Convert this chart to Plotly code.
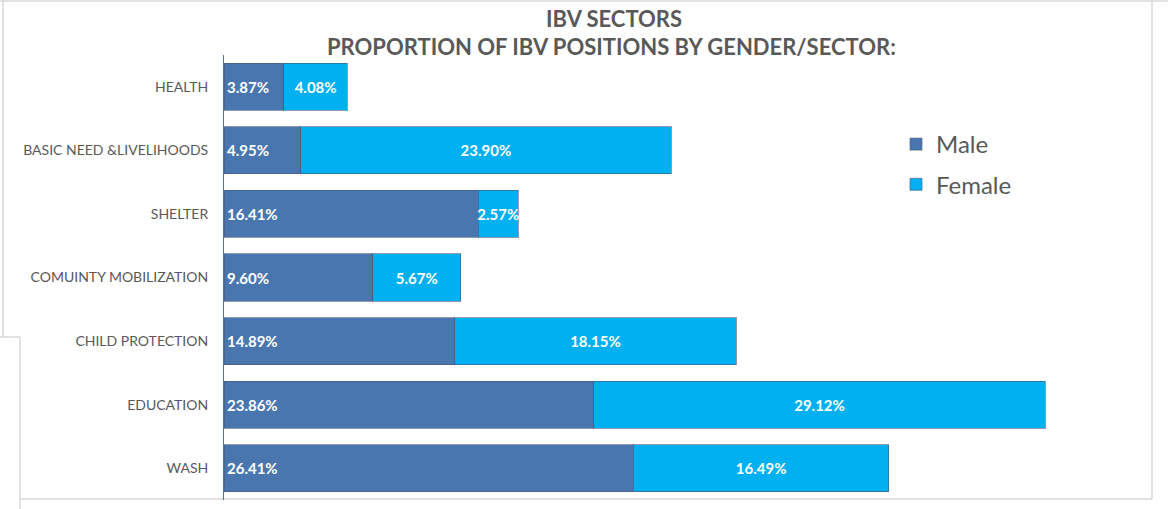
import plotly.graph_objects as go

categories = ["HEALTH", "BASIC NEED &LIVELIHOODS", "SHELTER", "COMUINTY MOBILIZATION",
              "CHILD PROTECTION", "EDUCATION", "WASH"]
male = [3.87, 4.95, 16.41, 9.60, 14.89, 23.86, 26.41]
female = [4.08, 23.90, 2.57, 5.67, 18.15, 29.12, 16.49]

title_line1 = "IBV SECTORS"
title_line2 = "PROPORTION OF IBV POSITIONS BY GENDER/SECTOR:"

W, H = 1168, 509
ML, MR, MT, MB = 224, 14, 55, 9
PW, PH = W - ML - MR, H - MT - MB

def px(x):
    return (x - ML) / PW

def py(y):
    return 1 - (y - MT) / PH

FONT = "Lato"
GREY = "#595959"
MALE_C = "#4A76B0"
FEMALE_C = "#00B0F0"

fig = go.Figure()
fig.add_trace(go.Bar(
    y=categories, x=male, orientation="h", name="Male",
    marker=dict(color=MALE_C, line=dict(color="rgba(70,90,120,0.6)", width=1)),
    texttemplate="%{x:.2f}%", textposition="inside", insidetextanchor="start",
    textangle=0, constraintext="none",
    textfont=dict(family=FONT, size=15, color="white", weight="bold"),
    legendgroup="m", width=0.74,
))
fig.add_trace(go.Bar(
    y=categories, x=female, orientation="h", name="Female",
    marker=dict(color=FEMALE_C, line=dict(color="rgba(70,90,120,0.6)", width=1)),
    texttemplate="%{x:.2f}%", textposition="inside", insidetextanchor="middle",
    textangle=0, constraintext="none",
    textfont=dict(family=FONT, size=15, color="white", weight="bold"),
    legendgroup="f", width=0.74,
))

fig.update_layout(
    width=W, height=H,
    margin=dict(l=ML, r=MR, t=MT, b=MB, autoexpand=False),
    barmode="stack",
    plot_bgcolor="white", paper_bgcolor="white",
    font=dict(family=FONT, color=GREY),
    xaxis=dict(range=[0, 60], showgrid=False, zeroline=False, showticklabels=False,
               showline=False, fixedrange=True),
    yaxis=dict(autorange="reversed", showgrid=False, zeroline=False,
               showline=True, linecolor="#4472C4", linewidth=1,
               ticks="", ticklabelstandoff=12,
               tickfont=dict(family=FONT, size=14, color=GREY)),
    legend=dict(x=px(896), y=py(122), xanchor="left", yanchor="top",
                font=dict(family=FONT, size=24, color=GREY),
                tracegroupgap=6, bgcolor="rgba(0,0,0,0)"),
    showlegend=True,
)

fig.add_annotation(text="<b>" + title_line1 + "</b>", xref="paper", yref="paper",
                   x=px(614), y=py(18), xanchor="center", yanchor="middle",
                   showarrow=False, font=dict(family=FONT, size=22, color=GREY))
fig.add_annotation(text="<b>" + title_line2 + "</b>", xref="paper", yref="paper",
                   x=px(611), y=py(47), xanchor="center", yanchor="middle",
                   showarrow=False, font=dict(family=FONT, size=22, color=GREY))

frame = "#D9D9D9"
segs = [((0, 1), (1168, 1)), ((1152, 0), (1152, 499)), ((20, 499), (1152, 499)),
        ((3, 0), (3, 337)), ((0, 337), (20, 337)), ((20, 337), (20, 509))]
for (x0, y0), (x1, y1) in segs:
    fig.add_shape(type="line", xref="paper", yref="paper",
                  x0=px(x0), y0=py(y0), x1=px(x1), y1=py(y1),
                  line=dict(color=frame, width=1.5), layer="below")

fig.write_html("out.html", config={"displayModeBar": False},
               post_script="document.body.style.margin='0';document.body.style.overflow='hidden';")
